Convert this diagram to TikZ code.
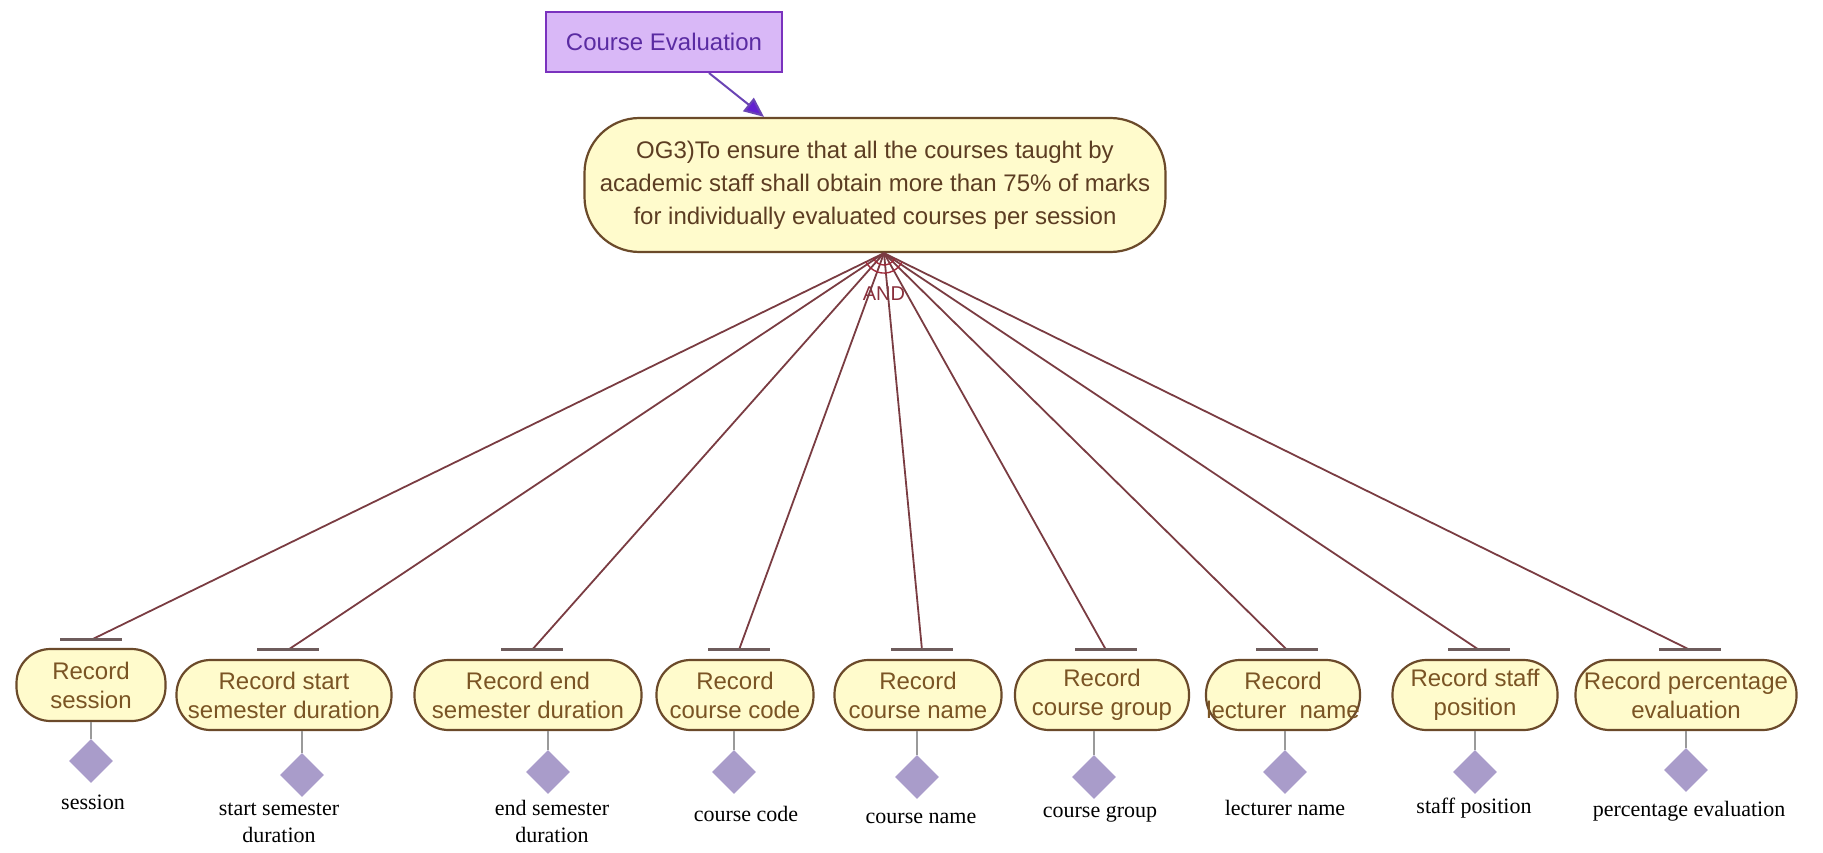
\documentclass[tikz,border=0pt]{standalone}
\usepackage{fontspec}
\setmainfont{Liberation Sans}
\newfontfamily\labelfont{Liberation Serif}
\usetikzlibrary{shapes.geometric,arrows.meta}

\definecolor{taskfill}{HTML}{FFFBCC}
\definecolor{taskedge}{HTML}{6B4A2A}
\definecolor{tasktext}{HTML}{7A5424}
\definecolor{goaltext}{HTML}{5C3D22}
\definecolor{linkcol}{HTML}{7A3C42}
\definecolor{barcol}{HTML}{6E5C5C}
\definecolor{resfill}{HTML}{A99CCA}
\definecolor{stemcol}{HTML}{9A9A9A}
\definecolor{softfill}{HTML}{D9B8F7}
\definecolor{softedge}{HTML}{7A32BE}
\definecolor{softtext}{HTML}{5A2BA2}
\definecolor{contrib}{HTML}{6A44B4}
\definecolor{contribtip}{HTML}{6420D2}
\definecolor{andtext}{HTML}{8A2F3C}
\definecolor{andarc}{HTML}{A02A3A}

\begin{document}
\begin{tikzpicture}[x=1pt,y=-1pt,
  task/.style={draw=taskedge, line width=2.2pt, fill=taskfill, rounded corners=34pt,
    align=center, inner sep=0pt, minimum height=70pt, text=tasktext,
    font=\fontsize{24}{29}\selectfont},
  goalbox/.style={draw=taskedge, line width=2.2pt, fill=taskfill, rounded corners=55pt,
    align=center, inner sep=0pt, minimum width=581pt, minimum height=134pt, text=goaltext,
    font=\fontsize{24}{33}\selectfont},
  softgoal/.style={draw=softedge, line width=2pt, fill=softfill, inner sep=0pt,
    minimum width=236pt, minimum height=60pt, text=softtext, font=\fontsize{24}{29}\selectfont},
  resource/.style={diamond, fill=resfill, draw=none, inner sep=0pt, minimum width=44pt,
    minimum height=44pt},
  reslabel/.style={align=center, text=black, font=\labelfont\fontsize{22}{27}\selectfont},
  link/.style={draw=linkcol, line width=1.8pt},
  bar/.style={draw=barcol, line width=3pt},
  stem/.style={draw=stemcol, line width=1.4pt}]

\useasboundingbox (0,0) rectangle (1823,853);

% top elements
\node[softgoal] (ce) at (664,42) {Course Evaluation};
\node[goalbox] (goal) at (875,185) {OG3)To ensure that all the courses taught by\\
  academic staff shall obtain more than 75\% of marks\\
  for individually evaluated courses per session};
\draw[draw=contrib, line width=2pt, -{Triangle[length=20pt,width=17pt,fill=contribtip]}]
  ([xshift=45pt]ce.south) -- ([xshift=-111pt]goal.north);

% AND decomposition point
\coordinate (and) at ([xshift=9pt]goal.south);
\node[text=andtext, font=\fontsize{20}{24}\selectfont] (andlbl) at (884,294) {AND};

% tasks
\node[task, minimum width=149pt, minimum height=72pt] (r1) at (91,685) {Record\\session};
\node[task, minimum width=215pt] (r2) at (284,695) {Record start\\semester duration};
\node[task, minimum width=227pt] (r3) at (528,695) {Record end\\semester duration};
\node[task, minimum width=157pt] (r4) at (735,695) {Record\\course code};
\node[task, minimum width=167pt] (r5) at (918,695) {Record\\course name};
\node[task, minimum width=174pt] (r6) at (1102,695) {Record\\course group};
\node[task, minimum width=154pt] (r7) at (1283,695) {Record\\lecturer\ \ name};
\node[task, minimum width=165pt] (r8) at (1475,695) {Record staff\\position};
\node[task, minimum width=221pt] (r9) at (1686,695) {Record percentage\\evaluation};

% decomposition bars above the tasks
\coordinate (b1) at ([yshift=8pt]r1.north);
\foreach \i in {2,...,9} \coordinate (b\i) at ([xshift=4pt,yshift=9pt]r\i.north);
\foreach \i in {1,...,9} {
  \draw[link] (and) -- (b\i);
  \draw[bar] ([xshift=-31pt]b\i) -- ([xshift=31pt]b\i);
}
% AND arcs across the fan of links
\draw[draw=andarc, line width=1.4pt] (and) ++(154:20) arc[start angle=154, end angle=26, radius=20];
\draw[draw=andarc, line width=1.4pt] (and) ++(154:12) arc[start angle=154, end angle=26, radius=12];

% resources
\node[resource] (d1) at (91,761) {};
\node[resource] (d2) at (302,775) {};
\node[resource] (d3) at (548,772) {};
\node[resource] (d4) at (734,772) {};
\node[resource] (d5) at (917,777) {};
\node[resource] (d6) at (1094,777) {};
\node[resource] (d7) at (1285,772) {};
\node[resource] (d8) at (1475,772) {};
\node[resource] (d9) at (1686,770) {};
\foreach \i in {1,...,9} \draw[stem] (d\i.north) -- (d\i |- r\i.south);

\node[reslabel] (l1) at (93,802) {session};
\node[reslabel] (l2) at (279,823) {start semester\\duration};
\node[reslabel] (l3) at (552,821) {end semester\\duration};
\node[reslabel] (l4) at (746,814) {course code};
\node[reslabel] (l5) at (921,818) {course name};
\node[reslabel] (l6) at (1100,814) {course group};
\node[reslabel] (l7) at (1285,808) {lecturer name};
\node[reslabel] (l8) at (1474,808) {staff position};
\node[reslabel] (l9) at (1689,811) {percentage evaluation};
\end{tikzpicture}
\end{document}
